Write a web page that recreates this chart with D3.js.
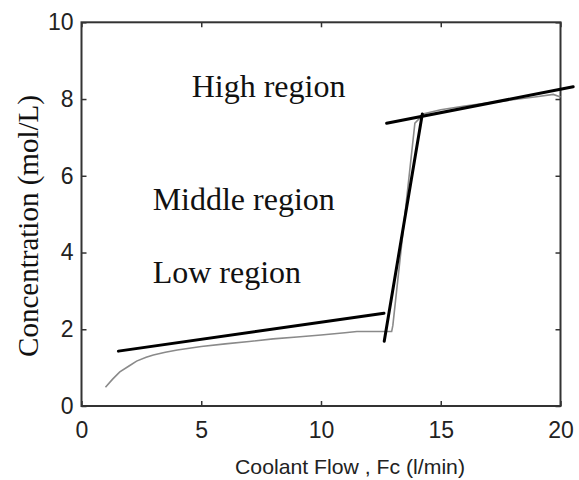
<!DOCTYPE html>
<html>
<head>
<meta charset="utf-8">
<script src="https://cdn.jsdelivr.net/npm/d3@7"></script>
<style>
  html, body { margin: 0; padding: 0; background: #fff; }
  svg { display: block; }
</style>
</head>
<body>
<svg id="chart" width="579" height="480"></svg>
<script>
// ---- data ----
const xTicks = [0, 5, 10, 15, 20];
const yTicks = [0, 2, 4, 6, 8, 10];

// simulated concentration response (gray)
const curveX = [1.0, 1.3, 1.6, 2.0, 2.3, 2.7, 3.0, 3.5, 4.0, 5.0, 6.0, 7.0, 8.0, 9.0, 10.0, 11.0, 11.5, 12.95, 13.0, 13.92, 14.3, 15.0, 16.0, 17.0, 18.0, 19.0, 19.7, 20.0];
const curveY = [0.49, 0.70, 0.89, 1.05, 1.17, 1.27, 1.33, 1.40, 1.46, 1.55, 1.62, 1.68, 1.75, 1.80, 1.85, 1.91, 1.94, 1.94, 2.10, 7.37, 7.62, 7.72, 7.82, 7.90, 7.98, 8.06, 8.12, 8.05];

// linear approximations (black)
const fitLowX = [1.54, 12.63],  fitLowY = [1.43, 2.42];
const fitMidX = [12.64, 14.23], fitMidY = [1.69, 7.61];
const fitHighX = [12.74, 20.53], fitHighY = [7.37, 8.32];

const regionLabels = ["High region", "Middle region", "Low region"];
const regionX = [4.6, 2.97, 2.97];
const regionY = [8.05, 5.1, 3.2];

// ---- layout ----
const svg = d3.select("#chart");
const mLeft = 81.5, mRight = 560.5, mTop = 22.3, mBottom = 406;
const x = d3.scaleLinear().domain([0, 20]).range([mLeft, mRight]);
const y = d3.scaleLinear().domain([0, 10]).range([mBottom, mTop]);

const axisColor = "#333";

// axes
const gB = svg.append("g").attr("transform", `translate(0,${mBottom})`)
  .call(d3.axisBottom(x).tickValues(xTicks).tickSizeInner(-5).tickSizeOuter(0).tickPadding(16).tickFormat(d3.format("d")));
const gT = svg.append("g").attr("transform", `translate(0,${mTop})`)
  .call(d3.axisTop(x).tickValues(xTicks).tickSizeInner(-5).tickSizeOuter(0).tickFormat(""));
const gL = svg.append("g").attr("transform", `translate(${mLeft},0)`)
  .call(d3.axisLeft(y).tickValues(yTicks).tickSizeInner(-5).tickSizeOuter(0).tickPadding(8).tickFormat(d3.format("d")));
const gR = svg.append("g").attr("transform", `translate(${mRight},0)`)
  .call(d3.axisRight(y).tickValues(yTicks).tickSizeInner(-5).tickSizeOuter(0).tickFormat(""));

[gB, gT, gL, gR].forEach(g => {
  g.select(".domain").remove();
  g.selectAll(".tick line").attr("stroke", axisColor).attr("stroke-width", 1.5);
  g.selectAll("text").attr("fill", "#222")
    .style("font-family", "'Liberation Sans', Arial, sans-serif")
    .style("font-size", "23px");
});

svg.append("rect")
  .attr("x", mLeft).attr("y", mTop)
  .attr("width", mRight - mLeft).attr("height", mBottom - mTop)
  .attr("fill", "none").attr("stroke", axisColor).attr("stroke-width", 2);

// gray simulated curve
const line = d3.line().x(d => x(d[0])).y(d => y(d[1]));
svg.append("path")
  .datum(curveX.map((v, i) => [v, curveY[i]]))
  .attr("d", line)
  .attr("fill", "none").attr("stroke", "#8a8a8a").attr("stroke-width", 1.6);

// black fitted lines
[[fitLowX, fitLowY], [fitMidX, fitMidY], [fitHighX, fitHighY]].forEach(([fx, fy]) => {
  svg.append("path")
    .datum(fx.map((v, i) => [v, fy[i]]))
    .attr("d", line)
    .attr("fill", "none").attr("stroke", "#000").attr("stroke-width", 3)
    .attr("stroke-linecap", "round");
});

// region labels
regionLabels.forEach((t, i) => {
  svg.append("text")
    .attr("x", x(regionX[i])).attr("y", y(regionY[i]))
    .attr("fill", "#111")
    .style("font-family", "'Liberation Serif', 'Times New Roman', serif")
    .style("font-size", "32px")
    .text(t);
});

// axis titles
svg.append("text")
  .attr("transform", `translate(38,226) rotate(-90)`)
  .attr("text-anchor", "middle")
  .attr("fill", "#111")
  .style("font-family", "'Liberation Serif', 'Times New Roman', serif")
  .style("font-size", "29px")
  .text("Concentration (mol/L)");

svg.append("text")
  .attr("x", 350).attr("y", 474)
  .attr("text-anchor", "middle")
  .attr("fill", "#222")
  .attr("textLength", 230).attr("lengthAdjust", "spacingAndGlyphs")
  .style("font-family", "'Liberation Sans', Arial, sans-serif")
  .style("font-size", "21px")
  .text("Coolant Flow , Fc (l/min)");
</script>
</body>
</html>
